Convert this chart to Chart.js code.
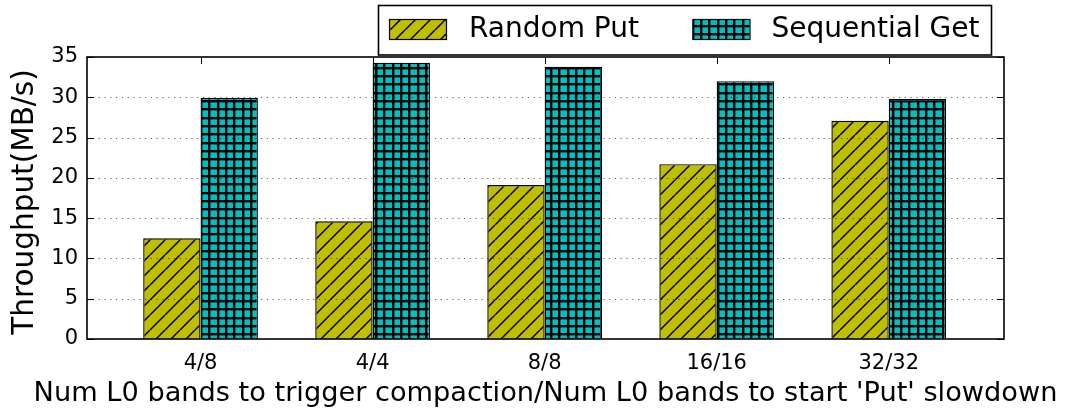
<!DOCTYPE html>
<html>
<head>
<meta charset="utf-8">
<script src="https://cdn.jsdelivr.net/npm/chart.js@4.4.1/dist/chart.umd.min.js"></script>
<style>
  html, body { margin: 0; padding: 0; background: #fff; }
  #wrap { width: 1067px; height: 410px; }
</style>
</head>
<body>
<div id="wrap"><canvas id="chart" width="1067" height="410"></canvas></div>
<script>
// Throughput per L0 band setting
const categories = ['4/8', '4/4', '8/8', '16/16', '32/32'];
const randomPut = [12.5, 14.6, 19.1, 21.7, 27.1];
const sequentialGet = [29.9, 34.3, 33.8, 32.0, 29.8];
const seriesNames = ['Random Put', 'Sequential Get'];
const yTicks = [0, 5, 10, 15, 20, 25, 30, 35];
const xTitle = "Num L0 bands to trigger compaction/Num L0 bands to start 'Put' slowdown";
const yTitle = 'Throughput(MB/s)';

const FONT = 'DejaVu Sans';
const OLIVE = '#bfbf00';
const CYAN = '#00bfbf';

// "//" hatch: black diagonals over a solid fill
function diagonalHatch(bg) {
  const s = 15;
  const c = document.createElement('canvas');
  c.width = s; c.height = s;
  const g = c.getContext('2d');
  g.fillStyle = bg;
  g.fillRect(0, 0, s, s);
  g.strokeStyle = '#000';
  g.lineWidth = 1.5;
  g.beginPath();
  for (let k = -1; k <= 1; k++) {
    g.moveTo(k * s, s);
    g.lineTo(k * s + s, 0);
  }
  g.stroke();
  return g.createPattern(c, 'repeat');
}

// "++" hatch: dense black grid over a solid fill
function gridHatch(bg) {
  const s = 25, n = 3, step = s / n, w = 2.4;
  const c = document.createElement('canvas');
  c.width = s; c.height = s;
  const g = c.getContext('2d');
  g.fillStyle = bg;
  g.fillRect(0, 0, s, s);
  g.fillStyle = '#000';
  for (let k = 0; k < n; k++) {
    const p = Math.round(k * step);
    g.fillRect(p, 0, w, s);
    g.fillRect(0, p, s, w);
  }
  return g.createPattern(c, 'repeat');
}

const ctx = document.getElementById('chart').getContext('2d');
const fills = [diagonalHatch(OLIVE), gridHatch(CYAN)];

// Grid lines, frame, inward tick marks, axis titles and boxed legend
const decorations = {
  id: 'decorations',
  afterDatasetsDraw(chart) {
    const { ctx, chartArea: a, scales } = chart;
    const ys = scales.y, xs = scales.x;
    ctx.save();

    // dotted horizontal grid, drawn over the bars
    ctx.strokeStyle = 'rgba(0,0,0,0.6)';
    ctx.lineWidth = 1;
    ctx.setLineDash([1.2, 4.6]);
    yTicks.forEach(v => {
      if (v <= ys.min || v >= ys.max) return;
      const y = Math.round(ys.getPixelForValue(v)) + 0.5;
      ctx.beginPath();
      ctx.moveTo(a.left, y);
      ctx.lineTo(a.right, y);
      ctx.stroke();
    });
    ctx.setLineDash([]);

    // tick marks pointing into the plot on every side
    const tl = 7;
    ctx.strokeStyle = '#000';
    ctx.lineWidth = 1;
    yTicks.forEach(v => {
      const y = Math.round(ys.getPixelForValue(v)) + 0.5;
      ctx.beginPath();
      ctx.moveTo(a.left, y); ctx.lineTo(a.left + tl, y);
      ctx.moveTo(a.right, y); ctx.lineTo(a.right - tl, y);
      ctx.stroke();
    });
    categories.forEach((_, i) => {
      const x = Math.round(xs.getPixelForValue(i)) + 0.5;
      ctx.beginPath();
      ctx.moveTo(x, a.top); ctx.lineTo(x, a.top + tl);
      ctx.moveTo(x, a.bottom); ctx.lineTo(x, a.bottom - tl);
      ctx.stroke();
    });

    // plot frame
    ctx.lineWidth = 1.6;
    ctx.strokeRect(a.left, a.top, a.right - a.left, a.bottom - a.top);

    // axis titles, free to run past the plot edges
    ctx.fillStyle = '#000';
    ctx.textAlign = 'center';
    ctx.textBaseline = 'middle';
    ctx.font = `27.2px "${FONT}"`;
    ctx.fillText(xTitle, (a.left + a.right) / 2, 394);
    ctx.save();
    ctx.translate(25, 202);
    ctx.rotate(-Math.PI / 2);
    ctx.font = `29.5px "${FONT}"`;
    ctx.fillText(yTitle, 0, 0);
    ctx.restore();

    // legend
    const box = { x: 378.5, y: 5.5, w: 613, h: 49.5 };
    ctx.fillStyle = '#fff';
    ctx.fillRect(box.x, box.y, box.w, box.h);
    ctx.lineWidth = 1.6;
    ctx.strokeStyle = '#000';
    ctx.strokeRect(box.x, box.y, box.w, box.h);
    const entries = [
      { sx: 389, tx: 469 },
      { sx: 692.5, tx: 771.5 }
    ];
    ctx.font = `28px "${FONT}"`;
    ctx.textBaseline = 'middle';
    ctx.textAlign = 'left';
    chart.data.datasets.forEach((ds, i) => {
      const e = entries[i];
      ctx.fillStyle = ds.backgroundColor;
      ctx.fillRect(e.sx, 19.5, 57, 20);
      ctx.lineWidth = 1.2;
      ctx.strokeStyle = '#000';
      ctx.strokeRect(e.sx + 0.5, 19.5, 57, 20);
      ctx.fillStyle = '#000';
      ctx.fillText(ds.label, e.tx, 30);
    });
    ctx.restore();
  }
};

new Chart(ctx, {
  type: 'bar',
  data: {
    datasets: [
      {
        label: seriesNames[0],
        data: randomPut.map((v, i) => ({ x: i, y: v })),
        backgroundColor: fills[0],
        borderColor: '#000',
        borderWidth: 1.4,
        categoryPercentage: 2 / 3,
        barPercentage: 1
      },
      {
        label: seriesNames[1],
        data: sequentialGet.map((v, i) => ({ x: i, y: v })),
        backgroundColor: fills[1],
        borderColor: '#000',
        borderWidth: 1.4,
        categoryPercentage: 2 / 3,
        barPercentage: 1
      }
    ]
  },
  options: {
    responsive: false,
    animation: false,
    devicePixelRatio: 1,
    layout: { padding: { left: 0, right: 63, top: 57, bottom: 0 } },
    plugins: { legend: { display: false }, tooltip: { enabled: false } },
    scales: {
      x: {
        type: 'linear',
        min: -0.66,
        max: 4.67,
        offset: false,
        grid: { display: false, drawTicks: false },
        border: { display: false },
        afterBuildTicks: s => { s.ticks = categories.map((_, i) => ({ value: i })); },
        afterFit: s => { s.height = 71; },
        ticks: {
          autoSkip: false,
          maxRotation: 0,
          padding: 12,
          color: '#000',
          font: { family: FONT, size: 21 },
          callback: (v, i) => categories[i]
        },
        title: { display: false }
      },
      y: {
        min: 0,
        max: 35,
        grid: { display: false, drawTicks: false },
        border: { display: false },
        afterBuildTicks: s => { s.ticks = yTicks.map(v => ({ value: v })); },
        afterFit: s => { s.width = 87; },
        ticks: {
          padding: 9,
          color: '#000',
          font: { family: FONT, size: 21 }
        },
        title: { display: false }
      }
    }
  },
  plugins: [decorations]
});
</script>
</body>
</html>
